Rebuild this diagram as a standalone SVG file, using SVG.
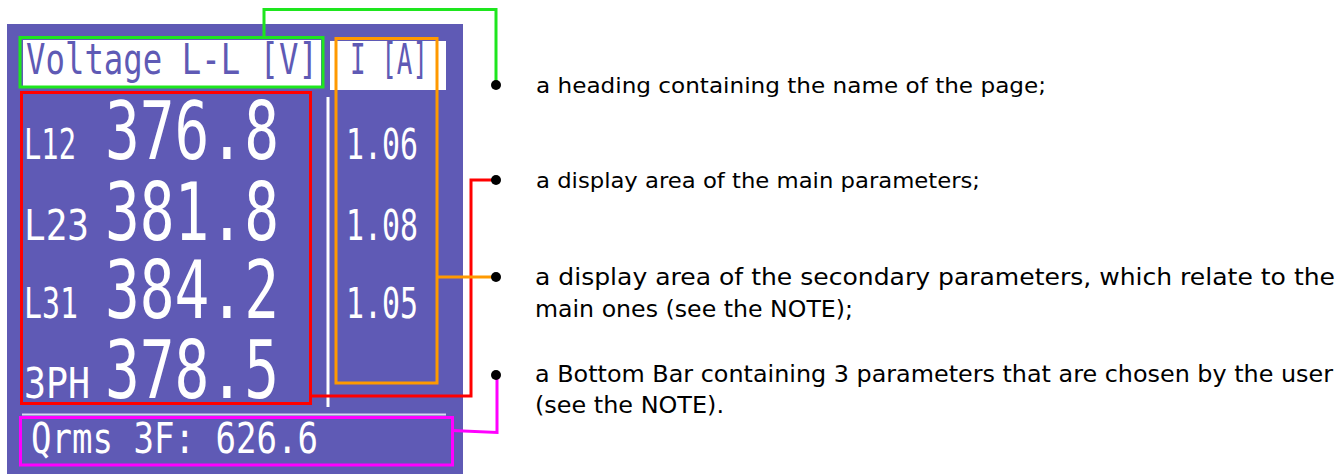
<svg xmlns="http://www.w3.org/2000/svg" width="1340" height="474" viewBox="0 0 1340 474">
<style>
.lcd{font-family:"DejaVu Sans Mono","Liberation Mono",monospace;}
.w{fill:#ffffff;}
.p{fill:#5F5AB5;}
.big{font-size:81px;}
.sm{font-size:42px;}
.desc{font-family:"DejaVu Sans","Liberation Sans",sans-serif;fill:#000;}
.hl{fill:none;stroke-width:3;}
.conn{fill:none;stroke-width:3;stroke-linejoin:miter;}
.dot{fill:#000;}
</style>
<rect x="0" y="0" width="1340" height="474" fill="#ffffff"/>
<g id="display">
  <rect x="7" y="24" width="456" height="450" fill="#5F5AB5"/>
  <rect x="23" y="40" width="298" height="46" fill="#ffffff"/>
  <rect x="330" y="41" width="116" height="49" fill="#ffffff"/>
  <rect x="326.5" y="97" width="3" height="310" fill="#ffffff"/>
  <rect x="22" y="413.5" width="424" height="2" fill="#dcdaf2"/>
</g>
<g id="heading">
  <text class="lcd sm p" x="26" y="74" textLength="292" lengthAdjust="spacingAndGlyphs">Voltage L-L [V]</text>
  <text class="lcd sm p" x="350" y="74" textLength="78" lengthAdjust="spacingAndGlyphs">I [A]</text>
  <rect class="hl" x="20" y="37.5" width="303" height="49.5" stroke="#1EE61E"/>
</g>
<g id="main-parameters">
  <text class="lcd sm w" x="24" y="159" textLength="52" lengthAdjust="spacingAndGlyphs">L12</text>
  <text class="lcd big w" x="105" y="159" textLength="174" lengthAdjust="spacingAndGlyphs">376.8</text>
  <text class="lcd sm w" x="24" y="240" textLength="65" lengthAdjust="spacingAndGlyphs">L23</text>
  <text class="lcd big w" x="105" y="240" textLength="174" lengthAdjust="spacingAndGlyphs">381.8</text>
  <text class="lcd sm w" x="24" y="318" textLength="54" lengthAdjust="spacingAndGlyphs">L31</text>
  <text class="lcd big w" x="105" y="318" textLength="174" lengthAdjust="spacingAndGlyphs">384.2</text>
  <text class="lcd sm w" x="24" y="398" textLength="66" lengthAdjust="spacingAndGlyphs">3PH</text>
  <text class="lcd big w" x="105" y="398" textLength="174" lengthAdjust="spacingAndGlyphs">378.5</text>
  <rect class="hl" x="21.5" y="92.5" width="289" height="311" stroke="#FF0000"/>
</g>
<g id="secondary-parameters">
  <text class="lcd sm w" x="346" y="159" textLength="72" lengthAdjust="spacingAndGlyphs">1.06</text>
  <text class="lcd sm w" x="346" y="240" textLength="72" lengthAdjust="spacingAndGlyphs">1.08</text>
  <text class="lcd sm w" x="346" y="318" textLength="72" lengthAdjust="spacingAndGlyphs">1.05</text>
  <rect class="hl" x="336" y="38.5" width="101" height="344.5" stroke="#FF9900"/>
</g>
<g id="bottom-bar">
  <text class="lcd sm w" x="31" y="453" textLength="287" lengthAdjust="spacingAndGlyphs">Qrms 3F: 626.6</text>
  <rect class="hl" x="20.5" y="417.5" width="432" height="47.5" stroke="#FF00FF"/>
</g>
<g id="connectors">
  <polyline class="conn" stroke="#1EE61E" points="264,37 264,9.5 496,9.5 496,85"/>
  <polyline class="conn" stroke="#FF0000" points="310,396 471,396 471,180 496,180"/>
  <polyline class="conn" stroke="#FF9900" points="437,277 496,277"/>
  <polyline class="conn" stroke="#FF00FF" points="452,430.5 497,432.5 497,375"/>
</g>
<g id="bullets">
  <circle class="dot" cx="496" cy="85" r="5"/>
  <circle class="dot" cx="496" cy="180" r="5"/>
  <circle class="dot" cx="496" cy="277" r="5"/>
  <circle class="dot" cx="496" cy="375" r="5"/>
</g>
<g id="descriptions">
  <text class="desc" x="536" y="93" font-size="22" textLength="510" lengthAdjust="spacingAndGlyphs">a heading containing the name of the page;</text>
  <text class="desc" x="536" y="188" font-size="22" textLength="444" lengthAdjust="spacingAndGlyphs">a display area of the main parameters;</text>
  <text class="desc" x="535" y="285" font-size="23" textLength="800" lengthAdjust="spacingAndGlyphs">a display area of the secondary parameters, which relate to the</text>
  <text class="desc" x="535" y="317" font-size="23" textLength="318" lengthAdjust="spacingAndGlyphs">main ones (see the NOTE);</text>
  <text class="desc" x="535" y="382" font-size="23" textLength="798" lengthAdjust="spacingAndGlyphs">a Bottom Bar containing 3 parameters that are chosen by the user</text>
  <text class="desc" x="535" y="413" font-size="23" textLength="189" lengthAdjust="spacingAndGlyphs">(see the NOTE).</text>
</g>
</svg>
